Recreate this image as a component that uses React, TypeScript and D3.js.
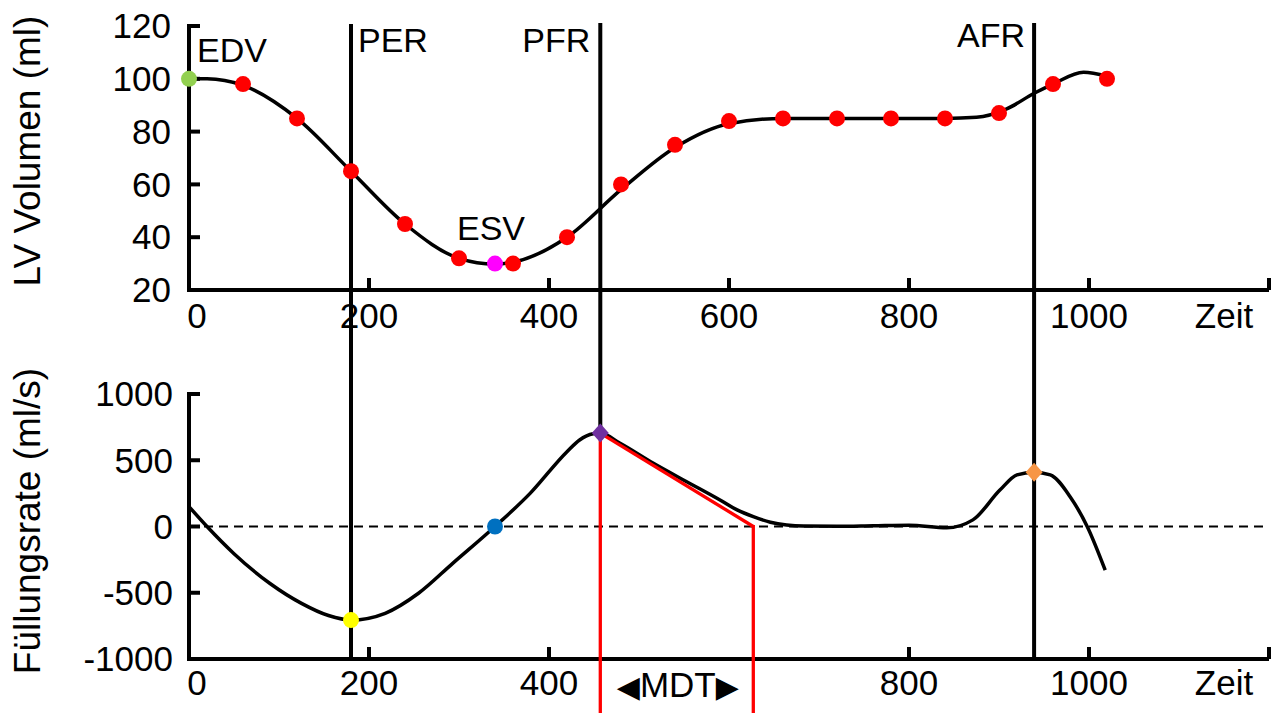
import React from "react";
import * as d3 from "d3";

// ---- data ----
const xTicks = [0, 200, 400, 600, 800, 1000];
const xTicksBottom = [0, 200, 400, 800, 1000];
const volTicks = [20, 40, 60, 80, 100, 120];
const rateTicks = [-1000, -500, 0, 500, 1000];

// LV volume markers (red), every 60 ms
const volTimes = [60, 120, 180, 240, 300, 360, 420, 480, 540, 600, 660, 720, 780, 840, 900, 960, 1020];
const volValues = [98, 85, 65, 45, 32, 30, 40, 60, 75, 84, 85, 85, 85, 85, 87, 98, 100];
const edvPoint = { t: 0, v: 100 };
const esvPoint = { t: 340, v: 30 };

// LV volume smoothed curve
const volCurveT = [0, 20, 60, 120, 180, 240, 300, 340, 360, 420, 480, 540, 600, 660, 720, 780, 840, 875, 908, 939, 960, 994, 1020];
const volCurveV = [100, 100, 97.5, 85, 65, 45, 32, 29.8, 30.5, 40, 58, 74, 83, 85, 85, 85, 85, 85.4, 88.5, 94.5, 98, 102.5, 101];

// Filling rate curve
const rateT = [0, 20, 50, 90, 125, 155, 180, 218, 255, 293, 340, 379, 420, 434, 449, 457, 479, 516, 553, 590, 609, 627, 646, 664, 683, 720, 760, 800, 842, 871, 901, 920, 939, 957, 979, 998, 1018];
const rateV = [150, 0, -205, -430, -580, -672, -706, -655, -504, -278, 0, 250, 565, 653, 700, 705, 628, 477, 338, 200, 125, 74, 32, 11, 3, 2, 6, 10, -10, 50, 275, 390, 410, 390, 225, 0, -330];

// Events
const perTime = 180;
const perRate = -706;
const zeroCrossTime = 340;
const pfrTime = 457;
const pfrRate = 705;
const afrTime = 939;
const afrRate = 410;
const mdtEndTime = 627;

const eventLabels = ["EDV", "PER", "PFR", "ESV", "AFR"];

const W = 1271;
const H = 713;
const FONT = "'Liberation Sans', Arial, sans-serif";

export default function App() {
  const x = d3.scaleLinear().domain([0, 1200]).range([189, 1269]);
  const yTop = d3.scaleLinear().domain([20, 120]).range([290, 26]);
  const yBot = d3.scaleLinear().domain([-1000, 1000]).range([659, 394]);

  const volLine = d3
    .line<number>()
    .x((_, i) => x(volCurveT[i]))
    .y((d) => yTop(d))
    .curve(d3.curveMonotoneX);
  const rateLine = d3
    .line<number>()
    .x((_, i) => x(rateT[i]))
    .y((d) => yBot(d))
    .curve(d3.curveMonotoneX);

  const diamond = (cx: number, cy: number, color: string) => (
    <path d={`M${cx},${cy - 9.5} L${cx + 8.5},${cy} L${cx},${cy + 9.5} L${cx - 8.5},${cy} Z`} fill={color} />
  );

  const axisW = 4;
  const x0 = x(0);
  const xEnd = x(1200);

  return (
    <svg width={W} height={H} style={{ position: "absolute", left: 0, top: 0, background: "#fff" }} fontFamily={FONT}>
      <rect width={W} height={H} fill="#fff" />

      {/* ---------- TOP CHART ---------- */}
      <line x1={x0} x2={x0} y1={yTop(120) - 2} y2={yTop(20) + 2} stroke="#000" strokeWidth={axisW} />
      {volTicks.map((t) => (
        <g key={"vt" + t}>
          <line x1={x0} x2={x0 + 11} y1={yTop(t)} y2={yTop(t)} stroke="#000" strokeWidth={axisW} />
          <text x={171} y={yTop(t)} dy="0.35em" textAnchor="end" fontSize={35}>
            {t}
          </text>
        </g>
      ))}
      <line x1={x0 - 2} x2={xEnd} y1={yTop(20)} y2={yTop(20)} stroke="#000" strokeWidth={axisW} />
      {[...xTicks.slice(1), 1200].map((t) => (
        <line key={"xt1" + t} x1={x(t)} x2={x(t)} y1={yTop(20)} y2={yTop(20) - 12} stroke="#000" strokeWidth={axisW} />
      ))}
      {xTicks.map((t) => (
        <text key={"xl1" + t} x={x(t) + (t === 0 ? 8 : 0)} y={328} textAnchor="middle" fontSize={35}>
          {t}
        </text>
      ))}
      <text x={1224} y={328} textAnchor="middle" fontSize={35}>
        Zeit
      </text>
      <text transform={`translate(40,151) rotate(-90)`} textAnchor="middle" fontSize={37}>
        LV Volumen (ml)
      </text>

      {/* ---------- BOTTOM CHART ---------- */}
      <line x1={x0} x2={x0} y1={yBot(1000) - 2} y2={yBot(-1000) + 2} stroke="#000" strokeWidth={axisW} />
      {rateTicks.map((t) => (
        <g key={"rt" + t}>
          <line x1={x0} x2={x0 + 11} y1={yBot(t)} y2={yBot(t)} stroke="#000" strokeWidth={axisW} />
          <text x={173} y={yBot(t)} dy="0.35em" textAnchor="end" fontSize={35}>
            {t}
          </text>
        </g>
      ))}
      <line x1={x0 - 2} x2={xEnd} y1={yBot(-1000)} y2={yBot(-1000)} stroke="#000" strokeWidth={axisW} />
      {[...xTicksBottom.slice(1), 1200].map((t) => (
        <line key={"xt2" + t} x1={x(t)} x2={x(t)} y1={yBot(-1000)} y2={yBot(-1000) - 12} stroke="#000" strokeWidth={axisW} />
      ))}
      {xTicksBottom.map((t) => (
        <text key={"xl2" + t} x={x(t) + (t === 0 ? 8 : 0)} y={695} textAnchor="middle" fontSize={35}>
          {t}
        </text>
      ))}
      <text x={1224} y={695} textAnchor="middle" fontSize={35}>
        Zeit
      </text>
      <text transform={`translate(40,521) rotate(-90)`} textAnchor="middle" fontSize={37}>
        Füllungsrate (ml/s)
      </text>
      <line x1={x0} x2={xEnd} y1={yBot(0)} y2={yBot(0)} stroke="#000" strokeWidth={2} strokeDasharray="9,6" />

      {/* ---------- vertical event lines ---------- */}
      <line x1={x(perTime)} x2={x(perTime)} y1={24} y2={yBot(-1000)} stroke="#000" strokeWidth={4} />
      <line x1={x(pfrTime)} x2={x(pfrTime)} y1={23} y2={yBot(pfrRate)} stroke="#000" strokeWidth={4} />
      <line x1={x(afrTime)} x2={x(afrTime)} y1={23} y2={yBot(-1000)} stroke="#000" strokeWidth={4} />

      {/* curves */}
      <path d={volLine(volCurveV) || ""} fill="none" stroke="#000" strokeWidth={3.5} strokeLinejoin="round" />
      <path d={rateLine(rateV) || ""} fill="none" stroke="#000" strokeWidth={3.5} strokeLinejoin="round" />

      {/* MDT red lines */}
      <line x1={x(pfrTime)} x2={x(pfrTime)} y1={yBot(pfrRate)} y2={H} stroke="#ff0000" strokeWidth={3.3} />
      <line x1={x(pfrTime)} x2={x(mdtEndTime)} y1={yBot(pfrRate)} y2={yBot(0)} stroke="#ff0000" strokeWidth={3.3} />
      <line x1={x(mdtEndTime)} x2={x(mdtEndTime)} y1={yBot(0) - 1.5} y2={H} stroke="#ff0000" strokeWidth={3.3} />
      <text x={(x(pfrTime) + x(mdtEndTime)) / 2 + 1} y={697} textAnchor="middle" fontSize={35}>
        <tspan fontFamily="'DejaVu Sans'" fontSize={30}>◀</tspan>
        MDT
        <tspan fontFamily="'DejaVu Sans'" fontSize={30}>▶</tspan>
      </text>

      {/* markers top */}
      {volTimes.map((t, i) => (
        <circle key={"vm" + t} cx={x(t)} cy={yTop(volValues[i])} r={8} fill="#ff0000" />
      ))}
      <circle cx={x(edvPoint.t)} cy={yTop(edvPoint.v)} r={8} fill="#92d050" />
      <circle cx={x(esvPoint.t)} cy={yTop(esvPoint.v)} r={8} fill="#ff00ff" />

      {/* markers bottom */}
      <circle cx={x(perTime)} cy={yBot(perRate)} r={8} fill="#ffff00" />
      <circle cx={x(zeroCrossTime)} cy={yBot(0)} r={8} fill="#0070c0" />
      {diamond(x(pfrTime), yBot(pfrRate), "#7030a0")}
      {diamond(x(afrTime), yBot(afrRate), "#f79646")}

      {/* event labels */}
      <text x={197} y={62} fontSize={34}>{eventLabels[0]}</text>
      <text x={x(perTime) + 7} y={52} fontSize={34}>{eventLabels[1]}</text>
      <text x={x(pfrTime) - 10} y={52} textAnchor="end" fontSize={34}>{eventLabels[2]}</text>
      <text x={x(esvPoint.t) - 38} y={240} fontSize={34}>{eventLabels[3]}</text>
      <text x={x(afrTime) - 9} y={47} textAnchor="end" fontSize={34}>{eventLabels[4]}</text>
    </svg>
  );
}
